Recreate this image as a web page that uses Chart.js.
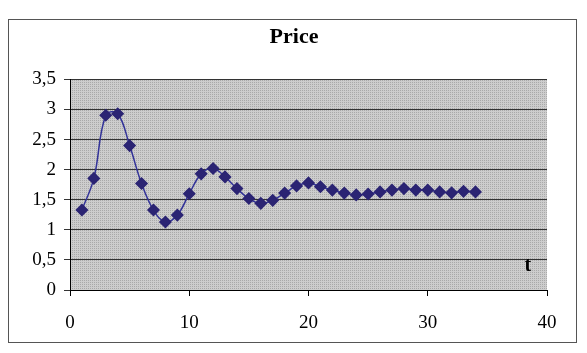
<!DOCTYPE html>
<html>
<head>
<meta charset="utf-8">
<script src="https://cdn.jsdelivr.net/npm/chart.js@4"></script>
<style>
html,body{margin:0;padding:0;background:#fff;}
#wrap{width:587px;height:353px;position:relative;}
</style>
</head>
<body>
<div id="wrap"><canvas id="c" width="587" height="353"></canvas></div>
<script>
const periods = [1,2,3,4,5,6,7,8,9,10,11,12,13,14,15,16,17,18,19,20,21,22,23,24,25,26,27,28,29,30,31,32,33,34];
const price = [1.33,1.855,2.905,2.93,2.4,1.77,1.33,1.13,1.245,1.6,1.93,2.02,1.88,1.685,1.52,1.44,1.49,1.61,1.73,1.78,1.715,1.66,1.61,1.58,1.595,1.63,1.66,1.685,1.66,1.66,1.63,1.615,1.64,1.63];
const xTicks = [0,10,20,30,40];
const yTicks = [0,0.5,1,1.5,2,2.5,3,3.5];
const titleText = 'Price';
const axisLabelX = 't';
const axisLabelPos = {x: 38.4, y: 0.4};

const serif = '"Liberation Serif", "Times New Roman", serif';

function makePattern(ctx) {
  const p = document.createElement('canvas');
  p.width = 2; p.height = 2;
  const g = p.getContext('2d');
  g.fillStyle = '#cdcdcd'; g.fillRect(0, 0, 2, 2);
  g.fillStyle = '#a9a9a9'; g.fillRect(0, 0, 1, 1);
  return ctx.createPattern(p, 'repeat');
}

const frame = {
  id: 'frame',
  afterLayout(chart) {
    if (chart.titleBlock) {
      chart.titleBlock.left = 0;
      chart.titleBlock.right = 588;
      chart.titleBlock.width = 588;
    }
  },
  beforeDraw(chart) {
    const ctx = chart.ctx;
    const a = chart.chartArea;
    ctx.save();
    ctx.fillStyle = '#fff';
    ctx.fillRect(0, 0, chart.width, chart.height);
    ctx.strokeStyle = '#555';
    ctx.lineWidth = 1;
    ctx.strokeRect(8.5, 19.5, 568, 323);
    ctx.fillStyle = makePattern(ctx);
    ctx.fillRect(a.left, a.top, a.right - a.left, a.bottom - a.top);
    ctx.restore();
  },
  afterDatasetsDraw(chart) {
    const ctx = chart.ctx;
    const xs = chart.scales.x, ys = chart.scales.y;
    ctx.save();
    ctx.fillStyle = '#000';
    ctx.font = 'bold 20px ' + serif;
    ctx.textAlign = 'center';
    ctx.textBaseline = 'middle';
    ctx.fillText(axisLabelX, xs.getPixelForValue(axisLabelPos.x), ys.getPixelForValue(axisLabelPos.y));
    ctx.restore();
  }
};

new Chart(document.getElementById('c'), {
  type: 'line',
  data: {
    datasets: [{
      data: periods.map((p, i) => ({x: p, y: price[i]})),
      borderColor: '#333399',
      borderWidth: 1.5,
      backgroundColor: '#2b2473',
      pointBackgroundColor: '#2b2473',
      pointBorderColor: '#2b2473',
      pointStyle: 'rectRot',
      pointRadius: 5.5,
      tension: 0.4,
      fill: false
    }]
  },
  options: {
    responsive: false,
    animation: false,
    devicePixelRatio: 1,
    layout: {padding: {left: 25, right: 40, top: 0, bottom: 0}},
    plugins: {
      legend: {display: false},
      tooltip: {enabled: false},
      title: {
        display: true,
        text: titleText,
        color: '#000',
        font: {family: serif, size: 22, weight: 'bold'},
        padding: {top: 24, bottom: 29}
      }
    },
    scales: {
      x: {
        type: 'linear',
        min: 0, max: 40,
        afterBuildTicks(s) { s.ticks = xTicks.map(v => ({value: v})); },
        afterFit(s) { s.height = 63; },
        ticks: {color: '#000', font: {family: serif, size: 19}, padding: 16, maxRotation: 0},
        grid: {drawOnChartArea: false, drawTicks: true, tickLength: 6, color: '#000'},
        border: {display: true, color: '#000', width: 1}
      },
      y: {
        type: 'linear',
        min: 0, max: 3.5,
        afterBuildTicks(s) { s.ticks = yTicks.map(v => ({value: v})); },
        afterFit(s) { s.width = 45; },
        ticks: {color: '#000', font: {family: serif, size: 19}, padding: 8,
          callback: v => String(v).replace('.', ',')},
        grid: {color: '#333', lineWidth: 1, drawTicks: true, tickLength: 6},
        border: {display: true, color: '#000', width: 1}
      }
    }
  },
  plugins: [frame]
});
</script>
</body>
</html>
